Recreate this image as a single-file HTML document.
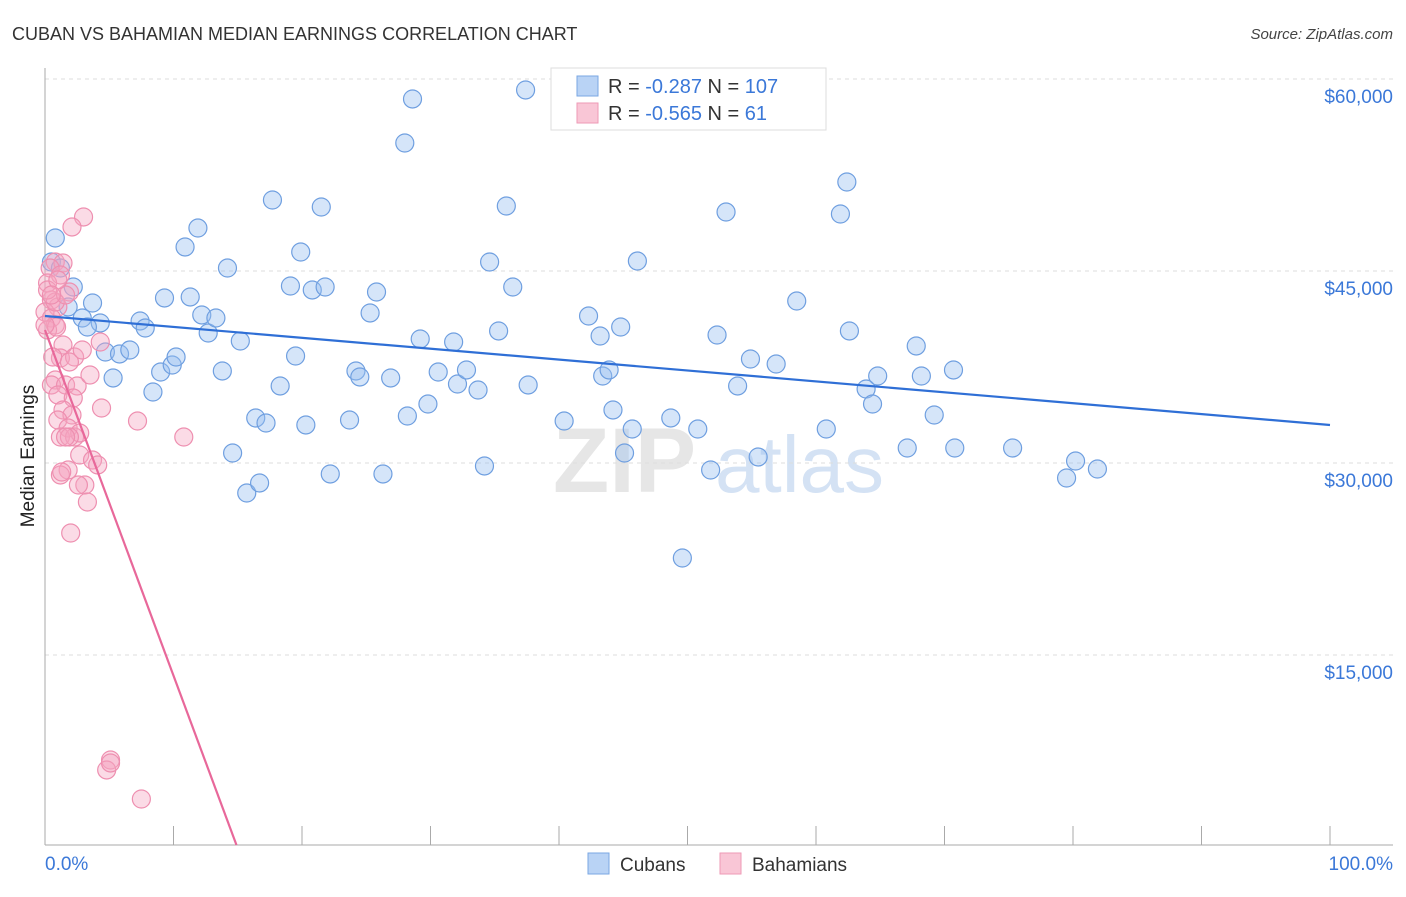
<!DOCTYPE html>
<html><head><meta charset="utf-8"><style>
body{margin:0;background:#fff;font-family:"Liberation Sans",sans-serif}
svg text{font-family:"Liberation Sans",sans-serif}
</style></head><body>
<svg id="chart" width="1406" height="892" xmlns="http://www.w3.org/2000/svg">
<text x="12" y="40" font-size="18" fill="#333">CUBAN VS BAHAMIAN MEDIAN EARNINGS CORRELATION CHART</text>
<text x="1393" y="39" font-size="15" font-style="italic" fill="#444" text-anchor="end">Source: ZipAtlas.com</text>
<g><text x="553" y="492" font-size="92" font-family="Liberation Serif" fill="#e6e6e6" font-weight="bold">ZIP</text><text x="715" y="492" font-size="80" fill="#d4e2f4">atlas</text></g>
<g id="grid"></g>
<g id="axes"></g>
<g id="pts"></g>
<g id="trends"></g>
<text transform="translate(34,456) rotate(-90)" font-size="19" fill="#222" text-anchor="middle">Median Earnings</text>
<g>
<rect x="551" y="68" width="275" height="62" fill="#fff" stroke="#ddd"/>
<rect x="577" y="76" width="21" height="20" fill="#b9d3f5" stroke="#7aa7e3"/>
<rect x="577" y="103" width="21" height="20" fill="#f9c6d6" stroke="#ee9ab6"/>
<text x="608" y="93" font-size="20" fill="#333">R = <tspan fill="#3b78d8">-0.287</tspan>   N = <tspan fill="#3b78d8">107</tspan></text>
<text x="608" y="120" font-size="20" fill="#333">R = <tspan fill="#3b78d8">-0.565</tspan>   N = <tspan fill="#3b78d8">  61</tspan></text>
</g>
<g>
<rect x="588" y="853" width="21" height="21" fill="#b9d3f5" stroke="#7aa7e3"/>
<text x="620" y="871" font-size="19" fill="#333">Cubans</text>
<rect x="720" y="853" width="21" height="21" fill="#f9c6d6" stroke="#ee9ab6"/>
<text x="752" y="871" font-size="19" fill="#333">Bahamians</text>
</g>
</svg>
<script>
const cubanX=[0.8,0.5,1.2,2.2,3.7,1.8,2.9,4.3,3.3,4.7,5.8,6.6,5.3,7.4,7.8,8.4,9.0,9.3,9.9,10.2,10.9,11.3,11.9,12.2,12.7,13.3,13.8,14.2,14.6,15.2,15.7,16.4,16.7,17.2,17.7,18.3,19.1,19.5,19.9,20.3,20.8,21.5,21.8,22.2,23.7,24.2,24.5,25.3,25.8,26.3,26.9,28.0,28.2,28.6,29.2,29.8,30.6,31.8,32.1,32.8,33.7,34.2,34.6,35.3,35.9,36.4,37.4,37.6,40.4,42.3,43.2,43.4,43.9,44.2,45.1,45.7,44.8,46.1,48.7,49.6,50.8,51.8,52.3,53.0,53.9,54.9,55.5,56.9,58.5,60.8,61.9,62.4,62.6,63.9,64.4,64.8,67.1,67.8,68.2,69.2,70.7,70.8,75.3,79.5,80.2,81.9];
const cubanY=[47578,45703,45234,43750,42500,42188,41328,40938,40625,38672,38516,38828,36641,41094,40547,35547,37109,42891,37656,38281,46875,42969,48359,41563,40156,41328,37188,45234,30781,39531,27656,33516,28438,33125,50547,36016,43828,38359,46484,32969,43516,50000,43750,29141,33359,37188,36719,41719,43359,29141,36641,55000,33672,58438,39688,34609,37109,39453,36172,37266,35703,29766,45703,40313,50078,43750,59141,36094,33281,41484,39922,36797,37266,34141,30781,32656,40625,45781,33516,22578,32656,29453,40000,49609,36016,38125,30469,37734,42656,32656,49453,51953,40313,35781,34609,36797,31172,39141,36797,33750,37266,31172,31172,28828,30156,29531];
const bahX=[3.0,2.1,0.8,1.4,0.4,1.2,0.2,1.9,0.5,1.0,0,0.5,0.8,0.2,0.9,1.4,1.2,2.3,0.6,1.9,0.8,0.5,1.6,2.5,1.0,2.2,1.4,2.1,1.0,1.8,1.2,2.3,2.7,1.9,1.6,4.4,7.2,10.8,2.7,3.7,1.8,4.1,1.2,1.3,3.1,2.6,3.3,2.0,5.1,4.8,5.1,7.5,4.3,0.8,0,3.5,2.9,1.6,0.2,1.0,0.5];
const bahY=[49219,48438,45703,45625,45234,44688,44063,43359,42734,42188,41797,41328,40781,40391,40625,39219,38203,38281,38281,37891,36484,36094,36094,36016,35313,35078,34141,33750,33359,32734,32031,32031,32344,32031,32031,34297,33281,32031,30625,30234,29453,29844,29063,29297,28281,28281,26953,24531,6797,6016,6563,3750,39453,42578,40781,36875,38828,43125,43516,44297,43125];
const cubanTrend=[41484,32969]; // value at x=0 and x=100
const bahTrend=[40391,0,14.9]; // value at x=0, value 0 reached at x=14.9
const yTicks=[15000,30000,45000,60000];
const yTickLabels=["$15,000","$30,000","$45,000","$60,000"];
const xTicks=[0,10,20,30,40,50,60,70,80,90,100];
const xTickLabels=["0.0%","100.0%"];

const NS="http://www.w3.org/2000/svg";
const sx=v=>45+v*12.85;
const sy=v=>847-v*192/15000;
function mk(tag,attrs,parent){const e=document.createElementNS(NS,tag);for(const k in attrs)e.setAttribute(k,attrs[k]);document.getElementById(parent).appendChild(e);return e;}
yTicks.forEach((t,i)=>{
  const l=mk('line',{x1:45,x2:1393,y1:sy(t),y2:sy(t),stroke:'#ddd','stroke-dasharray':'4 4'},'grid');
  
  
  const tx=mk('text',{x:1393,y:sy(t)+24,'font-size':19,fill:'#3b78d8','text-anchor':'end'},'grid');
  tx.textContent=yTickLabels[i];
  
  
});
mk('line',{x1:45,x2:45,y1:68,y2:845,stroke:'#aaa'},'axes');
mk('line',{x1:45,x2:1393,y1:845,y2:845,stroke:'#aaa'},'axes');
xTicks.forEach(t=>{
  const l=mk('line',{x1:sx(t),x2:sx(t),y1:826,y2:845,stroke:'#aaa'},'axes');
  
  
});
const xl0=mk('text',{x:45,y:870,'font-size':19,fill:'#3b78d8'},'axes');xl0.textContent=xTickLabels[0];


const xl1=mk('text',{x:1393,y:870,'font-size':19,fill:'#3b78d8','text-anchor':'end'},'axes');xl1.textContent=xTickLabels[1];


cubanX.forEach((x,i)=>{
  const c=mk('circle',{cx:sx(x),cy:sy(cubanY[i]),r:9,fill:'rgba(150,190,240,0.4)',stroke:'#6f9fe0','stroke-width':1.2},'pts');
  
  
});
bahX.forEach((x,i)=>{
  const c=mk('circle',{cx:sx(x),cy:sy(bahY[i]),r:9,fill:'rgba(245,165,192,0.4)',stroke:'#ee8fb0','stroke-width':1.2},'pts');
  
  
});
const t1=mk('line',{x1:sx(0),y1:sy(cubanTrend[0]),x2:sx(100),y2:sy(cubanTrend[1]),stroke:'#2f6fd6','stroke-width':2.2},'trends');


const t2=mk('line',{x1:sx(0),y1:sy(bahTrend[0]),x2:sx(bahTrend[2]),y2:sy(bahTrend[1])-2,stroke:'#e8689a','stroke-width':2.2},'trends');


</script>
</body></html>
